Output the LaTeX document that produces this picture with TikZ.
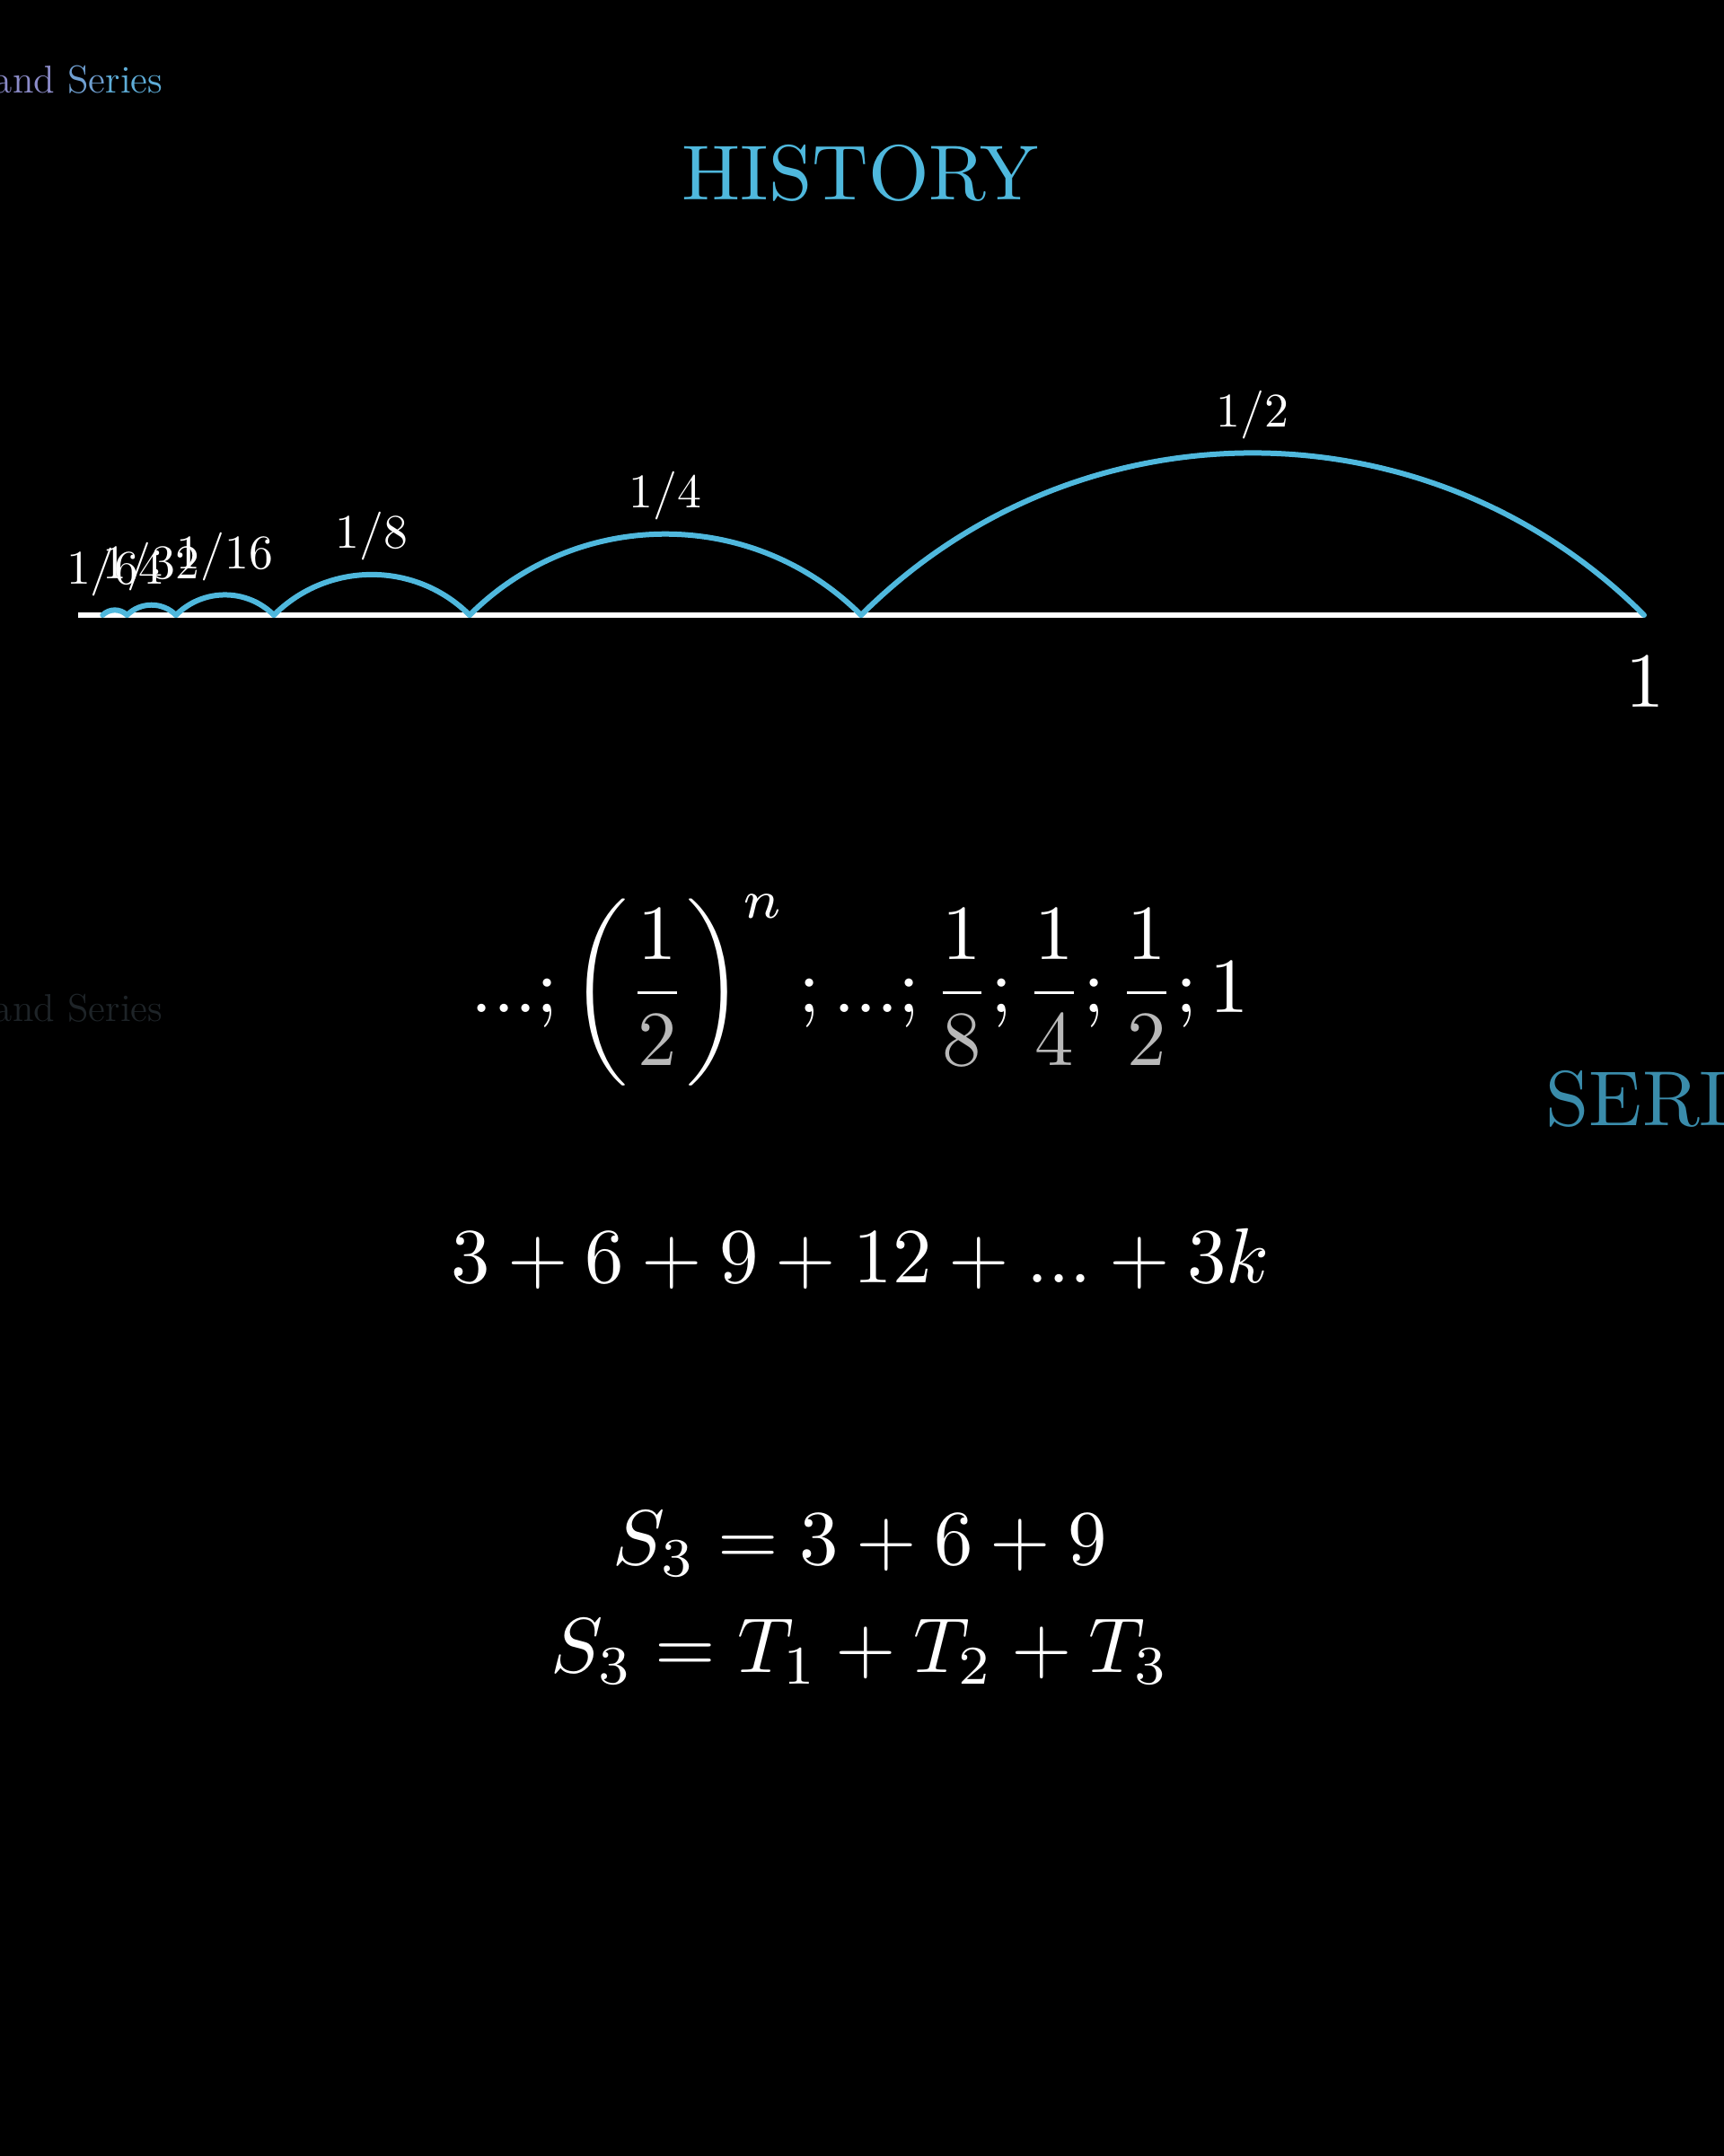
\RequirePackage{fix-cm}
\documentclass[tikz,border=0pt]{standalone}
\usepackage{amsmath}
\usepackage{xcolor}
\definecolor{Sky}{HTML}{4FB8DD}
\definecolor{DeepSky}{HTML}{3A8CAB}
\definecolor{Lavender}{HTML}{8C8CC9}
\definecolor{Shadow}{HTML}{1E2428}
\definecolor{Fade}{HTML}{B8B8B8}
\newcommand{\bigmath}[1]{\scalebox{2.47}{$\displaystyle#1$}}
\newcommand{\bigword}[1]{\scalebox{2.47}{#1}}
\newcommand{\hopmath}[1]{\scalebox{1.53}{$#1$}}

\begin{document}
\begin{tikzpicture}[
  bigtext/.style={inner sep=0pt,anchor=base,text=white},
  hoplabel/.style={inner sep=0pt,anchor=base,text=white},
  hop/.style={Sky,line width=0.06cm,line cap=round},
  corner/.style={inner sep=0pt,anchor=base east,font=\fontsize{12.3}{15}\selectfont}
]
  \fill[black] (0,0) rectangle (19.2,-24.01);
  \useasboundingbox (0,0) rectangle (19.2,-24.01);

  % fading headers
  \node[corner] (topcorner) at (1.82,-1.03)
    {\textcolor{Lavender}{and} \textcolor{Lavender!55!Sky}{Se}\textcolor{Lavender!25!Sky}{ries}};
  \node[corner,text=Shadow] (midcorner) at (1.82,-11.37) {and Series};
  \node[bigtext,text=Sky] (history) at (9.58,-2.22) {\bigword{HISTORY}};
  \node[bigtext,anchor=base west,text=DeepSky] (series) at (17.21,-12.53) {\bigword{SERI}};

  % number line with halving hops
  \coordinate (zero) at (0.87,-6.85);
  \coordinate (one) at (18.31,-6.85);
  \draw[white,line width=0.06cm] (zero) -- (one);
  \foreach \k in {1,...,6}{
    \pgfmathsetmacro\len{17.44/2^\k}
    \pgfmathsetmacro\xl{0.87+\len}
    \pgfmathtruncatemacro\den{2^\k}
    \coordinate (hop\k) at (\xl,-6.85);
    \draw[hop] (hop\k) arc[start angle=135,end angle=45,radius={\len/sqrt(2)}];
    \node[hoplabel] (lab\k) at (\xl+\len/2,-6.85+0.2071*\len+0.29) {\hopmath{1/\den}};
  }
  \node[bigtext] (onelabel) at (18.32,-7.87) {\bigmath{1}};

  % formulas
  \node[bigtext] (sequence) at (9.58,-11.27)
    {\bigmath{...;\left(\frac{1}{\textcolor{Fade}{2}}\right)^{n};...;\frac{1}{\textcolor{Fade}{8}};\frac{1}{\textcolor{Fade}{4}};\frac{1}{\textcolor{Fade}{2}};1}};
  \node[bigtext] (sum) at (9.58,-14.28) {\bigmath{3+6+9+12+...+3k}};
  \node[bigtext] (partial) at (9.58,-17.42) {\bigmath{S_3=3+6+9}};
  \node[bigtext] (terms) at (9.58,-18.62) {\bigmath{S_3=T_1+T_2+T_3}};
\end{tikzpicture}
\end{document}
